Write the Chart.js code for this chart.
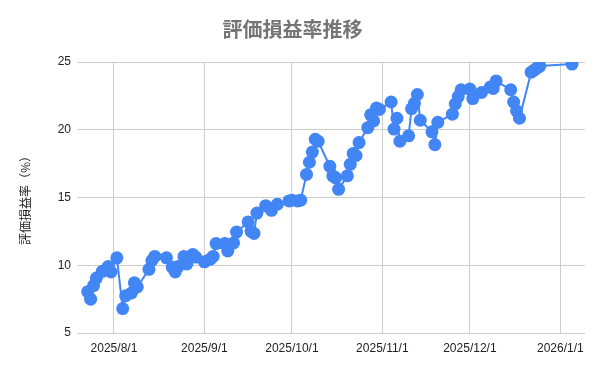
<!DOCTYPE html>
<html>
<head>
<meta charset="utf-8">
<script src="https://cdn.jsdelivr.net/npm/chart.js@4"></script>
<style>
  body { margin: 0; background: #fff; }
  #wrap { width: 600px; height: 371px; }
</style>
</head>
<body>
<div id="wrap"><canvas id="rateChart" width="600" height="371"></canvas></div>
<script>
var dates = [
    '2025-07-23', '2025-07-24', '2025-07-25', '2025-07-26', '2025-07-28', '2025-07-30', '2025-07-31', '2025-08-02',
    '2025-08-04', '2025-08-05', '2025-08-07', '2025-08-08', '2025-08-09', '2025-08-13', '2025-08-14', '2025-08-15',
    '2025-08-19', '2025-08-21', '2025-08-22', '2025-08-23', '2025-08-25', '2025-08-26', '2025-08-28', '2025-08-29',
    '2025-09-01', '2025-09-03', '2025-09-04', '2025-09-05', '2025-09-08', '2025-09-09', '2025-09-11', '2025-09-12',
    '2025-09-16', '2025-09-17', '2025-09-18', '2025-09-19', '2025-09-22', '2025-09-24', '2025-09-26', '2025-09-30',
    '2025-10-01', '2025-10-03', '2025-10-04', '2025-10-06', '2025-10-07', '2025-10-08', '2025-10-09', '2025-10-10',
    '2025-10-14', '2025-10-15', '2025-10-16', '2025-10-17', '2025-10-20', '2025-10-21', '2025-10-22', '2025-10-23',
    '2025-10-24', '2025-10-27', '2025-10-28', '2025-10-29', '2025-10-30', '2025-10-31', '2025-11-04', '2025-11-05',
    '2025-11-06', '2025-11-07', '2025-11-10', '2025-11-11', '2025-11-12', '2025-11-13', '2025-11-14', '2025-11-18',
    '2025-11-19', '2025-11-20', '2025-11-25', '2025-11-26', '2025-11-27', '2025-11-28', '2025-12-01', '2025-12-02',
    '2025-12-05', '2025-12-08', '2025-12-09', '2025-12-10', '2025-12-15', '2025-12-16', '2025-12-17', '2025-12-18',
    '2025-12-22', '2025-12-23', '2025-12-24', '2025-12-25', '2026-01-05'
];

var rates = [
    8.05, 7.5, 8.5, 9.05, 9.55, 9.9, 9.5, 10.55,
    6.8, 7.75, 7.95, 8.7, 8.4, 9.7, 10.35, 10.65,
    10.55, 9.85, 9.5, 9.9, 10.65, 10.1, 10.8, 10.6,
    10.25, 10.45, 10.65, 11.6, 11.6, 11.05, 11.65, 12.45,
    13.2, 12.5, 12.35, 13.85, 14.4, 14.05, 14.5, 14.75,
    14.8, 14.75, 14.8, 16.7, 17.6, 18.35, 19.3, 19.15,
    17.3, 16.6, 16.45, 15.6, 16.6, 17.45, 18.25, 18.1,
    19.05, 20.15, 21.1, 20.65, 21.6, 21.5, 22.05, 20.05,
    20.85, 19.15, 19.55, 21.55, 21.95, 22.6, 20.7, 19.85,
    18.9, 20.55, 21.15, 21.9, 22.45, 22.95, 23.0, 22.3,
    22.75, 23.15, 23.05, 23.6, 22.95, 22.05, 21.4, 20.85,
    24.25, 24.4, 24.55, 24.7, 24.85
];

// x軸の目盛り（各月1日）
var monthTicks = ['2025-08-01', '2025-09-01', '2025-10-01', '2025-11-01', '2025-12-01', '2026-01-01'];
var yTicks = [5, 10, 15, 20, 25];

function toTime(s) {
    var p = s.split('-');
    return Date.UTC(+p[0], +p[1] - 1, +p[2]);
}

function fmtDate(v) {
    var d = new Date(v);
    return d.getUTCFullYear() + '/' + (d.getUTCMonth() + 1) + '/' + d.getUTCDate();
}

var points = dates.map(function(d, i) {
    return { x: toTime(d), y: rates[i] };
});

var DAY = 86400000;
var blue = '#4285F4';
var gridColor = '#cccccc';
var tickFont = { family: '"Liberation Sans", Arial, sans-serif', size: 12 };

var rateChart = new Chart(document.getElementById('rateChart').getContext('2d'), {
    type: 'line',
    data: {
        datasets: [{
            label: '評価損益率',
            data: points,
            borderColor: blue,
            backgroundColor: blue,
            borderWidth: 2,
            pointRadius: 6.5,
            pointHoverRadius: 6.5,
            pointBorderWidth: 0,
            tension: 0
        }]
    },
    options: {
        responsive: false,
        animation: false,
        layout: { padding: { left: 0, right: 15, top: 0, bottom: 0 } },
        plugins: {
            legend: { display: false },
            tooltip: { enabled: false },
            title: {
                display: true,
                text: '評価損益率推移',
                color: '#757575',
                font: { family: '"Noto Sans CJK JP", sans-serif', size: 20, weight: 'bold' },
                padding: { top: 17, bottom: 21 }
            }
        },
        scales: {
            x: {
                type: 'linear',
                min: toTime('2025-07-19') + 8 * 3600000,
                max: toTime('2026-01-09') + 11 * 3600000,
                afterBuildTicks: function(scale) {
                    scale.ticks = monthTicks.map(function(m) { return { value: toTime(m) }; });
                },
                afterFit: function(scale) { scale.height = 38; },
                ticks: {
                    color: '#222222',
                    font: tickFont,
                    padding: 8,
                    maxRotation: 0,
                    autoSkip: false,
                    callback: function(v) { return fmtDate(v); }
                },
                grid: { color: gridColor, drawTicks: false },
                border: { display: false }
            },
            y: {
                min: 5,
                max: 25,
                afterBuildTicks: function(scale) {
                    scale.ticks = yTicks.map(function(v) { return { value: v }; });
                },
                afterFit: function(scale) { scale.width = 77; },
                ticks: { color: '#222222', font: tickFont, padding: 6 },
                grid: { color: gridColor, drawTicks: false },
                border: { display: false },
                title: {
                    display: true,
                    text: '評価損益率（%）',
                    color: '#222222',
                    font: { family: '"Noto Sans CJK JP", sans-serif', size: 12 },
                    padding: { top: 18, bottom: 0 }
                }
            }
        }
    }
});
</script>
</body>
</html>
